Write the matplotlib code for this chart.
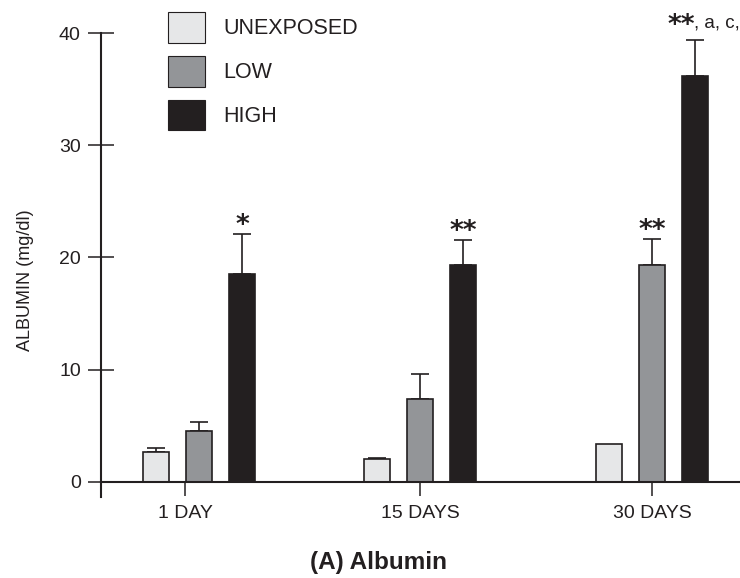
import numpy as np
import matplotlib
matplotlib.use('Agg')
import matplotlib.pyplot as plt
from matplotlib.patches import Patch

plt.rcParams['font.family'] = ['Liberation Sans', 'DejaVu Sans']

# data (mg/dl)
days = ['1 DAY', '15 DAYS', '30 DAYS']
groups = ['UNEXPOSED', 'LOW', 'HIGH']
unexposed = [2.7, 2.0, 3.35]
unexposed_err = [0.36, 0.12, 0.0]
low = [4.57, 7.37, 19.3]
low_err = [0.78, 2.2, 2.3]
high = [18.5, 19.3, 36.2]
high_err = [3.6, 2.25, 3.2]
marks_low = ['', '', '**']
marks_high = ['*', '**', '**']

ink = '#231f20'
colors = ['#e6e7e8', '#939598', '#231f20']

# layout (x in axis pixel units)
centers = np.array([199, 420, 652])
tick_pos = [185, 420, 652]
offsets = [-43, 0, 43]
width = 26.5

fig = plt.figure(figsize=(7.4, 5.78), dpi=100)
ax = fig.add_axes([101/740, 1-497/578, 639/740, 464/578])

series = [(unexposed, unexposed_err), (low, low_err), (high, high_err)]
for k, (vals, errs) in enumerate(series):
    vals = np.array(vals)
    errs = np.array(errs)
    ax.bar(centers + offsets[k], vals, width, color=colors[k],
           edgecolor=ink, linewidth=1.2, zorder=2)
    show = errs > 0
    ax.errorbar((centers + offsets[k])[show], vals[show],
                yerr=[np.zeros(show.sum()), errs[show]],
                fmt='none', ecolor=ink, elinewidth=1.2, capsize=6.8,
                capthick=1.2, zorder=1)

# significance marks
star_kw = dict(textcoords='offset points', ha='center', va='center',
               fontsize=19, fontweight='bold', family='DejaVu Sans', color=ink)
for i in range(3):
    top = high[i] + high_err[i]
    if i < 2:
        ax.annotate(marks_high[i], (centers[i] + offsets[2], top),
                    xytext=(0, 6), **star_kw)
    else:
        ax.annotate(marks_high[i], (centers[i] + offsets[2] - 14, top),
                    xytext=(0, 10), **star_kw)
        ax.annotate(', a, c,', (centers[i] + offsets[2] - 1, top),
                    xytext=(0, 12), textcoords='offset points',
                    ha='left', va='center', fontsize=13.5, color=ink)
    if marks_low[i]:
        ax.annotate(marks_low[i], (centers[i] + offsets[1], low[i] + low_err[i]),
                    xytext=(0, 6), **star_kw)

ax.set_xlim(101, 740)
ax.set_ylim(-1.35, 40)
ax.spines['top'].set_visible(False)
ax.spines['right'].set_visible(False)
ax.spines['bottom'].set_position(('data', 0))
for s in ['left', 'bottom']:
    ax.spines[s].set_linewidth(1.5)
    ax.spines[s].set_color(ink)

ax.set_yticks([0, 10, 20, 30, 40])
ax.tick_params(axis='y', direction='inout', length=19, width=1.1,
               color=ink, labelsize=14, labelcolor=ink, pad=5)
ax.set_xticks(tick_pos)
ax.set_xticklabels(days)
ax.tick_params(axis='x', direction='out', length=10, width=1.1,
               color=ink, labelsize=14, labelcolor=ink, pad=6.5)

ax.set_ylabel('ALBUMIN (mg/dl)', fontsize=13, color=ink)
ax.yaxis.set_label_coords(-0.105, 0.468)

handles = [Patch(facecolor=c, edgecolor=ink, linewidth=0.8) for c in colors]
fig.legend(handles, groups, loc='upper left',
           bbox_to_anchor=(168/740, 1-12/578), bbox_transform=fig.transFigure,
           frameon=False, fontsize=15.5, handlelength=1.72, handleheight=1.83,
           handletextpad=0.84, labelspacing=0.6, borderpad=0,
           borderaxespad=0, labelcolor=ink)

fig.text(378/740, 1-563/578, '(A) Albumin', ha='center', va='center',
         fontsize=17.5, fontweight='bold', color=ink)

plt.savefig('out.png', dpi=100)
